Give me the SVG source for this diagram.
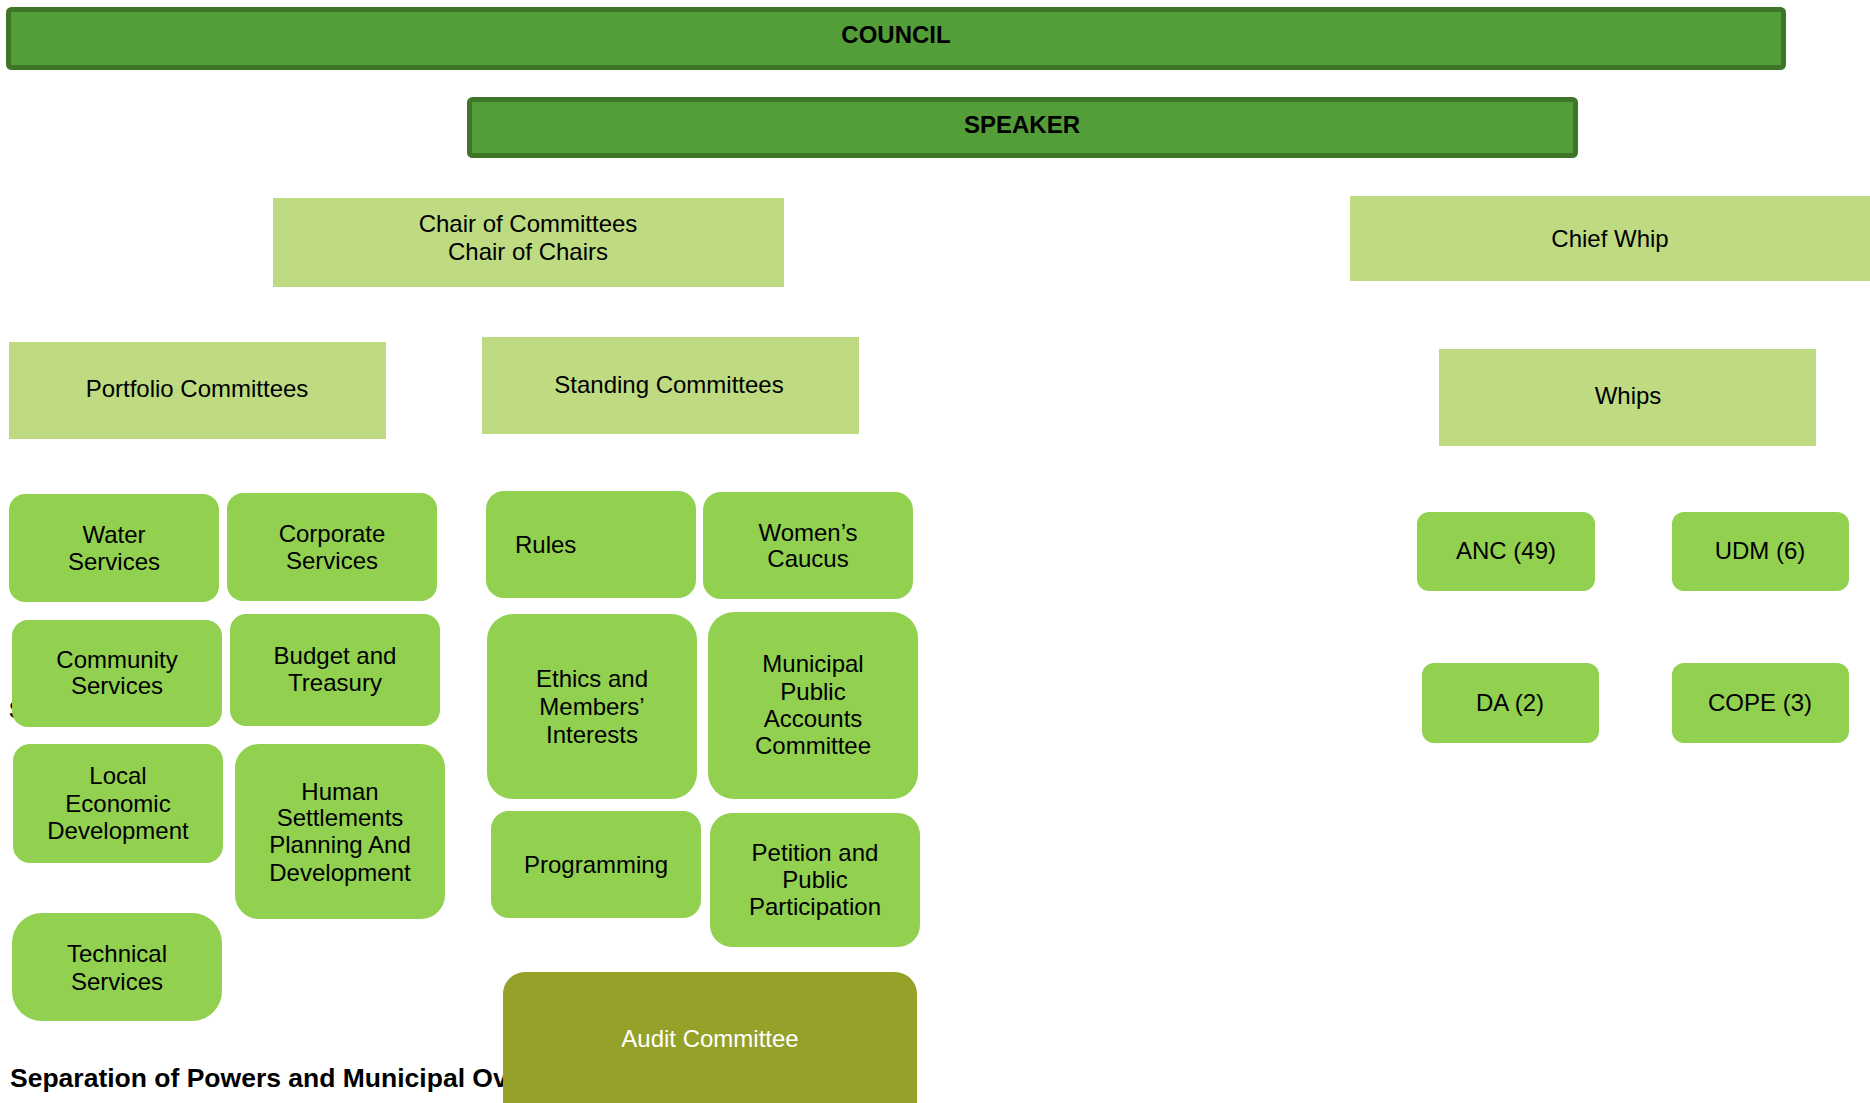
<svg xmlns="http://www.w3.org/2000/svg" width="1870" height="1103" viewBox="0 0 1870 1103">
  <style>
    text { font-family: "Liberation Sans", Arial, sans-serif; font-size: 24px; fill: #000; text-anchor: middle; }
    .bold { font-weight: bold; }
    .top { fill: #549e3a; stroke: #3e7528; stroke-width: 5; }
    .head { fill: #bedb82; }
    .item { fill: #92d050; }
    .audit { fill: #96a12a; }
    .white { fill: #ffffff; }
    .left { text-anchor: start; }
  </style>
  <rect width="1870" height="1103" fill="#ffffff"/>

  <!-- caption partly covered by the committee boxes -->
  <text class="bold left" x="9" y="718" font-size="26">S</text>
  <text class="bold left" x="10" y="1087" style="font-size:26.5px">Separation of Powers and Municipal Oversight</text>

  <g id="connectors"></g>

  <g id="council">
    <rect class="top" x="8.5" y="9.5" width="1775" height="58" rx="3"/>
    <text class="bold" x="896" y="43">COUNCIL</text>
  </g>
  <g id="speaker">
    <rect class="top" x="469.5" y="99.5" width="1106" height="56" rx="3"/>
    <text class="bold" x="1022" y="133">SPEAKER</text>
  </g>

  <g id="chair">
    <rect class="head" x="273" y="198" width="511" height="89"/>
    <text x="528" y="232">Chair of Committees</text>
    <text x="528" y="260">Chair of Chairs</text>
  </g>
  <g id="chief-whip">
    <rect class="head" x="1350" y="196" width="520" height="85"/>
    <text x="1610" y="247">Chief Whip</text>
  </g>
  <g id="portfolio">
    <rect class="head" x="9" y="342" width="377" height="97"/>
    <text x="197" y="397">Portfolio Committees</text>
  </g>
  <g id="standing">
    <rect class="head" x="482" y="337" width="377" height="97"/>
    <text x="669" y="393">Standing Committees</text>
  </g>
  <g id="whips">
    <rect class="head" x="1439" y="349" width="377" height="97"/>
    <text x="1628" y="404">Whips</text>
  </g>

  <!-- portfolio committees -->
  <g id="water">
    <rect class="item" x="9" y="494" width="210" height="108" rx="16"/>
    <text x="114" y="543">Water</text>
    <text x="114" y="570">Services</text>
  </g>
  <g id="corporate">
    <rect class="item" x="227" y="493" width="210" height="108" rx="16"/>
    <text x="332" y="542">Corporate</text>
    <text x="332" y="569">Services</text>
  </g>
  <g id="community">
    <rect class="item" x="12" y="620" width="210" height="107" rx="16"/>
    <text x="117" y="668">Community</text>
    <text x="117" y="694">Services</text>
  </g>
  <g id="budget">
    <rect class="item" x="230" y="614" width="210" height="112" rx="16"/>
    <text x="335" y="664">Budget and</text>
    <text x="335" y="691">Treasury</text>
  </g>
  <g id="led">
    <rect class="item" x="13" y="744" width="210" height="119" rx="17"/>
    <text x="118" y="784">Local</text>
    <text x="118" y="812">Economic</text>
    <text x="118" y="839">Development</text>
  </g>
  <g id="human-settlements">
    <rect class="item" x="235" y="744" width="210" height="175" rx="24"/>
    <text x="340" y="800">Human</text>
    <text x="340" y="826">Settlements</text>
    <text x="340" y="853">Planning And</text>
    <text x="340" y="881">Development</text>
  </g>
  <g id="technical">
    <rect class="item" x="12" y="913" width="210" height="108" rx="30"/>
    <text x="117" y="962">Technical</text>
    <text x="117" y="990">Services</text>
  </g>

  <!-- standing committees -->
  <g id="rules">
    <rect class="item" x="486" y="491" width="210" height="107" rx="18"/>
    <text class="left" x="515" y="553">Rules</text>
  </g>
  <g id="womens-caucus">
    <rect class="item" x="703" y="492" width="210" height="107" rx="18"/>
    <text x="808" y="541">Women’s</text>
    <text x="808" y="567">Caucus</text>
  </g>
  <g id="ethics">
    <rect class="item" x="487" y="614" width="210" height="185" rx="26"/>
    <text x="592" y="687">Ethics and</text>
    <text x="592" y="715">Members’</text>
    <text x="592" y="743">Interests</text>
  </g>
  <g id="mpac">
    <rect class="item" x="708" y="612" width="210" height="187" rx="26"/>
    <text x="813" y="672">Municipal</text>
    <text x="813" y="700">Public</text>
    <text x="813" y="727">Accounts</text>
    <text x="813" y="754">Committee</text>
  </g>
  <g id="programming">
    <rect class="item" x="491" y="811" width="210" height="107" rx="18"/>
    <text x="596" y="873">Programming</text>
  </g>
  <g id="petition">
    <rect class="item" x="710" y="813" width="210" height="134" rx="22"/>
    <text x="815" y="861">Petition and</text>
    <text x="815" y="888">Public</text>
    <text x="815" y="915">Participation</text>
  </g>
  <g id="audit">
    <rect class="audit" x="503" y="972" width="414" height="160" rx="22"/>
    <text class="white" x="710" y="1047">Audit Committee</text>
  </g>

  <!-- party whips -->
  <g id="anc">
    <rect class="item" x="1417" y="512" width="178" height="79" rx="12"/>
    <text x="1506" y="559">ANC (49)</text>
  </g>
  <g id="udm">
    <rect class="item" x="1672" y="512" width="177" height="79" rx="12"/>
    <text x="1760" y="559">UDM (6)</text>
  </g>
  <g id="da">
    <rect class="item" x="1422" y="663" width="177" height="80" rx="12"/>
    <text x="1510" y="711">DA (2)</text>
  </g>
  <g id="cope">
    <rect class="item" x="1672" y="663" width="177" height="80" rx="12"/>
    <text x="1760" y="711">COPE (3)</text>
  </g>
</svg>
